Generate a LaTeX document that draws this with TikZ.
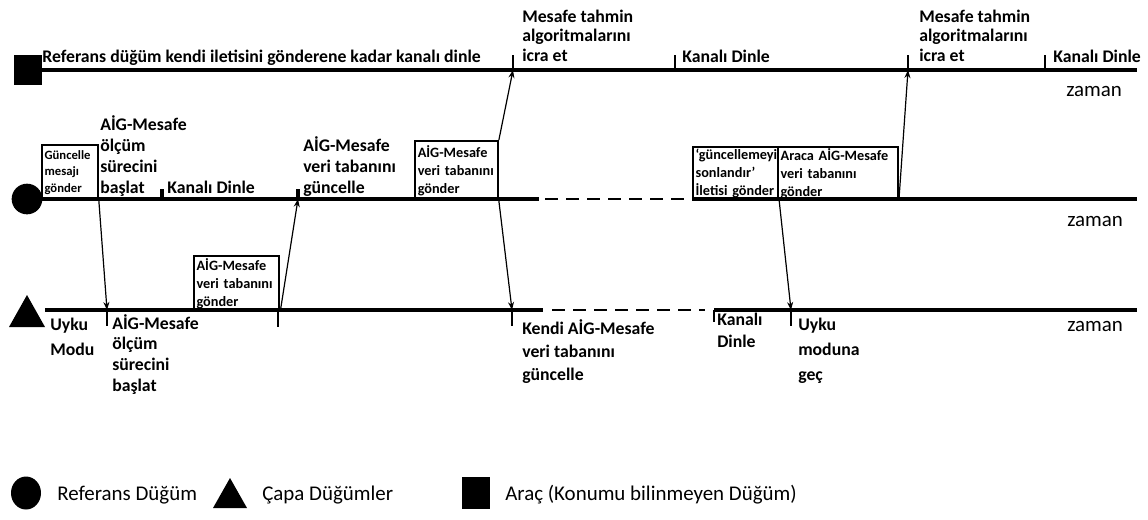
\documentclass[tikz,border=0pt]{standalone}
\usepackage{fontspec}
\setmainfont{Carlito}
\usetikzlibrary{arrows.meta,shapes.geometric}
\begin{document}
\begin{tikzpicture}[x=0.75pt,y=-0.75pt,
  axis/.style={line width=2.4pt},
  gap/.style={line width=1.8pt, dash pattern=on 9.75pt off 6pt},
  thintick/.style={line width=0.9pt},
  midtick/.style={line width=2.6pt},
  lowtick/.style={line width=1.6pt},
  msg/.style={line width=0.9pt, -{Stealth[length=6pt,width=4.5pt]}},
  lbl/.style={anchor=base west, inner sep=0pt, align=left,
              font=\fontsize{13.3}{#1}\selectfont\bfseries},
  lbl/.default=15.75pt,
  note/.style={anchor=base west, inner sep=0pt, font=\fontsize{15.7}{19}\selectfont},
  msgbox/.style={draw, line width=1.4pt, anchor=north west, inner xsep=2pt, inner ysep=0pt,
                 align=left, font=\fontsize{10.7}{13.5}\selectfont\bfseries},
  marker/.style={fill=black, inner sep=0pt, draw=none}
]
\useasboundingbox (0,0) rectangle (1148,519);

% ---- node markers ----
\node[marker, minimum width=21pt, minimum height=22.5pt] (veh) at (28,70) {};
\node[marker, circle, minimum size=23pt] (ref) at (27,199) {};
\fill (9,327) -- (27,295) -- (45,327) -- cycle;

% ---- time axes ----
\coordinate (t0) at (42,70);   \coordinate (t1) at (1137,70);
\coordinate (m0) at (42,199);  \coordinate (m1) at (539,199);
\coordinate (m2) at (545,199); \coordinate (m3) at (690,199);
\coordinate (m4) at (692,199); \coordinate (m5) at (1137,199);
\coordinate (b0) at (45,310);  \coordinate (b1) at (543,310);
\coordinate (b2) at (552,310); \coordinate (b3) at (705,310);
\coordinate (b4) at (714,310); \coordinate (b5) at (1137,310);
\draw[axis] (t0) -- (t1);
\draw[axis] (m0) -- (m1);
\draw[gap] (m2) -- (m3);
\draw[axis] (m4) -- (m5);
\draw[axis] (b0) -- (b1);
\draw[gap] (b2) -- (b3);
\draw[axis] (b4) -- (b5);

% ---- ticks ----
\foreach \x in {513,675,908,1045} \draw[thintick] (\x,55) -- (\x,70);
\foreach \x in {162,298} \draw[midtick] (\x,189) -- (\x,199);
\foreach \x in {107,512,791} \draw[lowtick] (\x,310) -- (\x,326);
\draw[thintick] (278,310) -- (278,327);
\draw[lowtick] (714,310) -- (714,322);

% ---- message boxes ----
\node[msgbox, minimum width=42pt, minimum height=41.25pt, text width=38pt,
      font=\fontsize{9.5}{12.4}\selectfont\bfseries] (upd) at (41,144)
      {Güncelle\\mesajı\\gönder};
\node[msgbox, minimum width=62.25pt, minimum height=44.25pt, text width=58pt] (sendR) at (414,140)
      {AİG-Mesafe\\veri tabanını\\gönder};
\node[msgbox, minimum width=63.75pt, minimum height=39.75pt, text width=60pt] (stop) at (692,146)
      {‘güncellemeyi\\sonlandır’\\İletisi gönder};
\node[msgbox, minimum width=90pt, minimum height=39.75pt, text width=86pt] (sendV) at (777,146)
      {Araca AİG-Mesafe\\veri tabanını\\gönder};
\node[msgbox, minimum width=63.75pt, minimum height=41.25pt, text width=60pt] (sendA) at (193,255)
      {AİG-Mesafe\\veri tabanını\\gönder};

% ---- message arrows ----
\coordinate (rx1) at (107,310);
\coordinate (rx2) at (298,199);
\coordinate (rx3) at (513,70);
\coordinate (rx4) at (512,310);
\coordinate (rx5) at (791,310);
\coordinate (rx6) at (908,70);
\draw[msg] (upd.south east) -- (rx1);
\draw[msg] (sendA.south east) -- (rx2);
\draw[msg] (sendR.north east) -- (rx3);
\draw[msg] (sendR.south east) -- (rx4);
\draw[msg] (stop.south east) -- (rx5);
\draw[msg] (sendV.south east) -- (rx6);

% ---- labels: vehicle row (positions give the last line's baseline) ----
\node[lbl] (l1) at (42,62) {Referans düğüm kendi iletisini gönderene kadar kanalı dinle};
\node[lbl=14.6pt] (l2) at (522,61) {Mesafe tahmin\\algoritmalarını\\icra et};
\node[lbl] (l3) at (682,62) {Kanalı Dinle};
\node[lbl=14.6pt] (l4) at (919,61) {Mesafe tahmin\\algoritmalarını\\icra et};
\node[lbl] (l5) at (1053,62) {Kanalı Dinle};
\node[note] (z1) at (1066,96) {zaman};

% ---- labels: reference row ----
\node[lbl] (l6) at (100,193) {AİG-Mesafe\\ölçüm\\sürecini\\başlat};
\node[lbl] (l7) at (167,193) {Kanalı Dinle};
\node[lbl] (l8) at (303,193) {AİG-Mesafe\\veri tabanını\\güncelle};
\node[note] (z2) at (1067,226) {zaman};

% ---- labels: anchor row ----
\node[lbl=18.75pt] (l9) at (50,355) {Uyku\\Modu};
\node[lbl=15.4pt] (l10) at (112,391) {AİG-Mesafe\\ölçüm\\sürecini\\başlat};
\node[lbl=17.25pt] (l11) at (522,380) {Kendi AİG-Mesafe\\veri tabanını\\güncelle};
\node[lbl=16.5pt] (l12) at (717,347) {Kanalı\\Dinle};
\node[lbl=18.75pt] (l13) at (798,380) {Uyku\\moduna\\geç};
\node[note] (z3) at (1067,331) {zaman};

% ---- legend ----
\node[marker, ellipse, minimum width=22.5pt, minimum height=24.75pt] (kref) at (26,493) {};
\fill (213,508) -- (230,478) -- (247,508) -- cycle;
\node[marker, minimum width=21pt, minimum height=24pt] (kveh) at (476,493) {};
\node[note] (k1) at (57,500) {Referans Düğüm};
\node[note] (k2) at (262,500) {Çapa Düğümler};
\node[note] (k3) at (505,500) {Araç (Konumu bilinmeyen Düğüm)};
\end{tikzpicture}
\end{document}
